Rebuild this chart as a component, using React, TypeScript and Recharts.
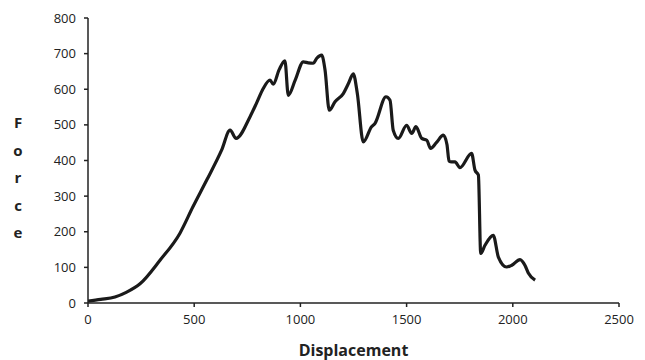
import React from "react";
import { LineChart, Line, XAxis, YAxis, Label } from "recharts";

const displacement = [
  0, 60, 127, 180, 245, 339, 433, 494, 559, 629, 669, 697, 763, 795, 825, 857, 872, 900, 927, 943, 975,
  1014, 1037, 1061, 1077, 1100, 1116, 1136, 1163, 1202, 1226, 1249, 1268, 1296, 1335, 1351, 1403, 1422,
  1437, 1461, 1500, 1524, 1544, 1571, 1595, 1613, 1640, 1673, 1690, 1700, 1712, 1728, 1751, 1806, 1822,
  1838, 1849, 1869, 1908, 1932, 1971, 1995, 2034, 2057, 2073, 2105,
];
const force = [
  5, 10, 17, 30, 54, 120, 196, 270, 345, 429, 485, 462, 523, 563, 602, 626, 614, 655, 680, 583, 625,
  677, 674, 673, 687, 696, 654, 541, 565, 588, 616, 643, 588, 452, 495, 504, 579, 569,
  485, 462, 499, 476, 495, 462, 457, 434, 450, 471, 445, 398, 396, 396, 380, 420, 373,
  359, 139, 162, 190, 129, 101, 106, 122, 106, 84, 64,
];
const xTicks = [0, 500, 1000, 1500, 2000, 2500];
const yTicks = [0, 100, 200, 300, 400, 500, 600, 700, 800];
const yLabelLetters = ["F", "o", "r", "c", "e"];

const data = displacement.map((d, i) => ({ d, f: force[i] }));

const FONT = "'Open Sans', 'Noto Sans', sans-serif";

const YLabel = () => (
  <text x={18} textAnchor="middle" fontFamily={FONT} fontWeight="bold" fontSize={15} fill="#222">
    {yLabelLetters.map((ch, i) => (
      <tspan key={i} x={18} y={128 + i * 27.5}>
        {ch}
      </tspan>
    ))}
  </text>
);

const XLabel = (props: any) => {
  const vb = props.viewBox || {};
  return (
    <text
      x={vb.x + vb.width / 2}
      y={356}
      textAnchor="middle"
      fontFamily={FONT}
      fontWeight="bold"
      fontSize={16}
      fill="#222"
    >
      Displacement
    </text>
  );
};

export default function App() {
  return (
    <div style={{ position: "absolute", left: 0, top: 0, width: 645, height: 360, background: "#fff" }}>
      <LineChart width={645} height={360} data={data} margin={{ top: 18, right: 26, bottom: 27, left: 38 }}>
        <XAxis
          dataKey="d"
          type="number"
          domain={[0, 2500]}
          ticks={xTicks}
          height={30}
          tickSize={4}
          tickMargin={8}
          stroke="#222"
          strokeWidth={1.5}
          tick={{ fill: "#222", fontSize: 13, fontFamily: FONT }}
          allowDataOverflow
        >
          <Label content={<XLabel />} />
        </XAxis>
        <YAxis
          type="number"
          domain={[0, 800]}
          ticks={yTicks}
          width={50}
          tickSize={4}
          tickMargin={8}
          stroke="#222"
          strokeWidth={1.5}
          tick={{ fill: "#222", fontSize: 13, fontFamily: FONT }}
          allowDataOverflow
        >
          <Label content={<YLabel />} />
        </YAxis>
        <Line
          type="monotone"
          dataKey="f"
          stroke="#1a1a1a"
          strokeWidth={3.2}
          dot={false}
          isAnimationActive={false}
        />
      </LineChart>
    </div>
  );
}
